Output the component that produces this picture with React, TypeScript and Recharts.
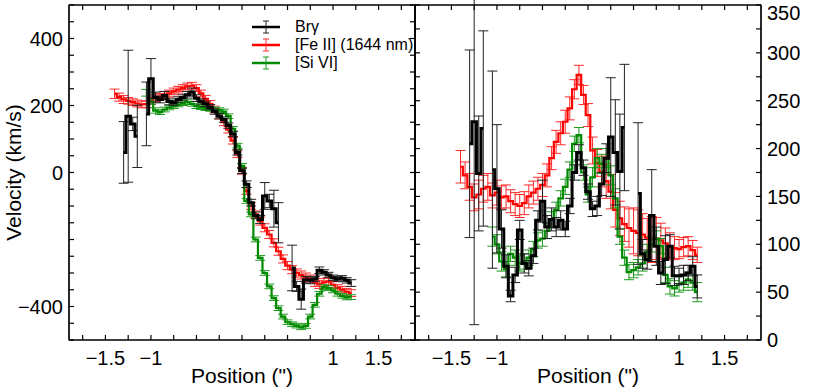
import React from 'react';
import { LineChart, Line, XAxis, YAxis, ErrorBar, Legend, ReferenceArea } from 'recharts';

const FONT = '"Liberation Sans", Arial, Helvetica, sans-serif';

const POSITIONS = [
  -1.40, -1.35, -1.30, -1.25, -1.20, -1.15, -1.10, -1.05, -1.00, -0.95,
  -0.90, -0.85, -0.80, -0.75, -0.70, -0.65, -0.60, -0.55, -0.50, -0.45,
  -0.40, -0.35, -0.30, -0.25, -0.20, -0.15, -0.10, -0.05, 0.00, 0.05,
  0.10, 0.15, 0.20, 0.25, 0.30, 0.35, 0.40, 0.45, 0.50, 0.55,
  0.60, 0.65, 0.70, 0.75, 0.80, 0.85, 0.90, 0.95, 1.00, 1.05,
  1.10, 1.15, 1.20,
];

// ---- Left panel: velocity (km/s)
const LEFT_FEII = [
  235, 225, 218, 214, 210, 206, 203, 204, 214, 222,
  226, 232, 236, 242, 247, 252, 257, 259, 252, 236,
  220, 205, 188, 170, 150, 128, 95, 55, 5, -55,
  -100, -125, -145, -165, -185, -210, -235, -258, -278, -290,
  -300, -306, -312, -318, -328, -334, -328, -325, -335, -345,
  -350, -356, -360,
];
const LEFT_FEII_ERR = [
  14, 12, 12, 10, 10, 10, 10, 10, 10, 10,
  10, 10, 10, 10, 10, 10, 10, 10, 10, 10,
  10, 10, 10, 10, 10, 10, 10, 10, 10, 10,
  10, 10, 12, 12, 12, 12, 12, 12, 12, 12,
  12, 12, 12, 12, 12, 12, 12, 12, 10, 10,
  10, 10, 10,
];
const LEFT_SIVI = [
  null, null, null, null, null, null, null, 238, 212, 185,
  180, 188, 194, 198, 203, 207, 210, 205, 198, 195,
  192, 190, 188, 186, 182, 168, 130, 80, 20, -85,
  -125, -200, -255, -300, -340, -375, -405, -430, -447, -453,
  -457, -462, -458, -430, -395, -362, -342, -345, -352, -362,
  -368, -373, -372,
];
const LEFT_SIVI_ERR = [
  null, null, null, null, null, null, null, 10, 8, 8,
  7, 7, 7, 7, 7, 7, 7, 7, 7, 7,
  7, 7, 7, 7, 7, 7, 7, 7, 7, 7,
  7, 7, 7, 7, 7, 7, 7, 7, 7, 7,
  7, 7, 7, 7, 7, 7, 7, 7, 7, 7,
  7, 7, 7,
];
const LEFT_BRG = [
  null, null, 60, 168, 145, 108, null, 175, 280, 225,
  218, 230, 212, 208, 218, 224, 232, 240, 222, 212,
  205, 195, 182, 168, 158, 140, 115, 60, 5, -35,
  -90, -128, -140, -70, -85, -108, -150, null, null, -285,
  -340, -378, -320, -322, -318, -292, -298, -306, -314, -318,
  -316, -322, -330,
];
const LEFT_BRG_ERR = [
  null, null, 92, 197, 20, 93, null, 95, 60, 15,
  10, 12, 10, 8, 8, 8, 10, 12, 10, 8,
  8, 8, 8, 8, 8, 8, 8, 8, 8, 10,
  10, 10, 12, 40, 20, 55, 60, null, null, 68,
  15, 30, 10, 10, 8, 10, 8, 8, 8, 8,
  8, 8, 10,
];

// ---- Right panel: dispersion (km/s)
const RIGHT_FEII = [
  181, 172, 160, 149, 152, 158, 160, 151, 154, 149,
  150, 145, 142, 140, 143, 150, 154, 158, 162, 172,
  190, 207, 216, 228, 242, 262, 277, 256, 235, 198,
  185, 176, 166, 155, 136, 127, 121, 117, 114, 112,
  110, 107, 105, 106, 104, 101, 98, 96, 95, 97,
  98, 94, 89,
];
const RIGHT_FEII_ERR = [
  17, 14, 14, 14, 15, 14, 14, 13, 13, 12,
  12, 12, 12, 12, 12, 12, 12, 12, 12, 12,
  12, 12, 12, 12, 12, 10, 10, 10, 12, 14,
  14, 16, 18, 18, 18, 18, 18, 20, 24, 24,
  22, 20, 24, 22, 18, 16, 14, 12, 10, 10,
  10, 10, 8,
];
const RIGHT_SIVI = [
  null, null, null, null, null, null, null, 108, 100, 82,
  74, 90, 86, 80, 82, 86, 95, 104, 106, 114,
  126, 136, 148, 160, 178, 205, 214, 175, 152, 170,
  190, 184, 190, 172, 148, 108, 86, 71, 73, 76,
  80, 92, 100, 106, 98, 68, 56, 54, 58, 60,
  63, 60, 50,
];
const RIGHT_SIVI_ERR = [
  null, null, null, null, null, null, null, 10, 10, 10,
  8, 8, 8, 8, 8, 8, 8, 8, 8, 8,
  8, 8, 8, 8, 8, 8, 8, 8, 8, 10,
  10, 10, 10, 10, 10, 8, 8, 8, 8, 8,
  8, 8, 8, 8, 8, 8, 8, 8, 8, 8,
  8, 8, 10,
];
const RIGHT_BRG = [
  null, null, 205, 228, 174, 221, null, 178, 158, 116,
  77, 46, 68, 115, 80, 75, 88, 125, 145, 118,
  126, 118, 125, 116, 140, 175, 196, 180, 155, 137,
  140, 163, 190, 212, 196, 176, 222, null, null, 153,
  90, 84, 130, 98, 70, 84, 98, 67, 67, 68,
  70, 77, 56,
];
const RIGHT_BRG_ERR = [
  null, null, 98, 212, 60, 102, null, 103, 67, 20,
  12, 6, 8, 10, 10, 8, 8, 10, 22, 12,
  12, 10, 10, 8, 8, 8, 8, 8, 8, 8,
  10, 12, 15, 62, 55, 60, 66, null, null, 74,
  15, 10, 48, 20, 12, 25, 12, 10, 8, 10,
  8, 10, 12,
];

const X_TICKS = [-1.75, -1.5, -1.25, -1, -0.75, -0.5, -0.25, 0, 0.25, 0.5, 0.75, 1, 1.25, 1.5, 1.75];
const X_TICK_LABELS = [-1.5, -1, 1, 1.5];
const Y_LEFT_TICKS = [-500, -450, -400, -350, -300, -250, -200, -150, -100, -50, 0, 50, 100, 150, 200, 250, 300, 350, 400, 450, 500];
const Y_LEFT_LABELS = [-400, 0, 200, 400];
const Y_RIGHT_TICKS = [0, 25, 50, 75, 100, 125, 150, 175, 200, 225, 250, 275, 300, 325, 350];
const Y_RIGHT_LABELS = [0, 50, 100, 150, 200, 250, 300, 350];

const SERIES = [
  { name: 'Brγ', color: '#000000', errColor: '#222222', width: 3 },
  { name: '[Fe II] (1644 nm)', color: '#ff0000', errColor: '#ff2a2a', width: 2.2 },
  { name: '[Si VI]', color: '#008a00', errColor: '#1f9a1f', width: 2.2 },
];

const fmt = (v: number) => (v < 0 ? '\u2212' + Math.abs(v) : String(v));
const xFmt = (v: number) => (X_TICK_LABELS.includes(v) ? fmt(v) : '');
const yLeftFmt = (v: number) => (Y_LEFT_LABELS.includes(v) ? fmt(v) : '');

function build(vals: (number | null)[], errs: (number | null)[]) {
  return POSITIONS.map((x, i) => ({ x, v: vals[i], e: errs[i] }));
}

const leftData = {
  brg: build(LEFT_BRG, LEFT_BRG_ERR),
  fe: build(LEFT_FEII, LEFT_FEII_ERR),
  si: build(LEFT_SIVI, LEFT_SIVI_ERR),
};
const rightData = {
  brg: build(RIGHT_BRG, RIGHT_BRG_ERR),
  fe: build(RIGHT_FEII, RIGHT_FEII_ERR),
  si: build(RIGHT_SIVI, RIGHT_SIVI_ERR),
};

const tickStyle = { fontSize: 20, fill: '#000', fontFamily: FONT };
const titleStyle = { fontSize: 21, fill: '#000', fontFamily: FONT };

const RightTick = (props: any) => {
  const { x, y, payload } = props;
  const v = payload.value;
  if (!Y_RIGHT_LABELS.includes(v)) return <g />;
  const shift = v === 350 ? 8 : 0;
  return (
    <text x={x} y={y + shift} dy="0.355em" textAnchor="start" fontSize={20} fill="#000" fontFamily={FONT}>
      {fmt(v)}
    </text>
  );
};

const EmptyTick = () => <g />;

const LegendContent = () => (
  <div style={{ fontFamily: FONT, fontSize: 16, color: '#000', width: 170 }}>
    {SERIES.map((s) => (
      <div key={s.name} style={{ display: 'flex', alignItems: 'center', height: 18 }}>
        <svg width={32} height={18} style={{ display: 'block', flex: '0 0 32px' }}>
          <line x1={2} y1={9} x2={30} y2={9} stroke={s.color} strokeWidth={2.5} />
          <line x1={16} y1={3} x2={16} y2={15} stroke={s.errColor} strokeWidth={1} />
          <line x1={13} y1={3} x2={19} y2={3} stroke={s.errColor} strokeWidth={1} />
          <line x1={13} y1={15} x2={19} y2={15} stroke={s.errColor} strokeWidth={1} />
        </svg>
        <span style={{ display: 'block', flex: '0 0 auto', paddingLeft: 13, lineHeight: '18px', whiteSpace: 'nowrap' }}>
          {s.name}
        </span>
      </div>
    ))}
  </div>
);

function seriesLines(data: typeof leftData, yId: string) {
  const items = [
    { d: data.fe, s: SERIES[1] },
    { d: data.si, s: SERIES[2] },
    { d: data.brg, s: SERIES[0] },
  ];
  return items.map(({ d, s }) => (
    <Line
      key={s.name}
      xAxisId="b"
      yAxisId={yId}
      data={d}
      dataKey="v"
      name={s.name}
      type="step"
      stroke={s.color}
      strokeWidth={s.width}
      dot={false}
      activeDot={false}
      connectNulls={false}
      isAnimationActive={false}
      legendType="none"
    >
      <ErrorBar dataKey="e" direction="y" width={5} stroke={s.errColor} strokeWidth={1} isAnimationActive={false} />
    </Line>
  ));
}

const commonX = {
  type: 'number' as const,
  domain: [-1.9, 1.9],
  allowDataOverflow: true,
  ticks: X_TICKS,
  interval: 0 as const,
  tickSize: -5,
  stroke: '#000',
  strokeWidth: 1.2,
};

export default function App() {
  return (
    <div style={{ position: 'absolute', left: 0, top: 0, width: 830, height: 388, background: '#fff' }}>
      <div style={{ position: 'absolute', left: 0, top: 0 }}>
        <LineChart width={420} height={388} margin={{ top: 4, right: 4, bottom: 0, left: 0 }}>
          <XAxis
            {...commonX}
            xAxisId="b"
            dataKey="x"
            tickFormatter={xFmt}
            height={48}
            tickMargin={16}
            tick={tickStyle}
            label={{ value: 'Position (")', position: 'insideBottom', offset: 5, style: titleStyle }}
          />
          <XAxis {...commonX} xAxisId="t" dataKey="x" orientation="top" height={1} tick={EmptyTick} />
          <YAxis
            yAxisId="l"
            type="number"
            domain={[-500, 500]}
            allowDataOverflow
            ticks={Y_LEFT_TICKS}
            interval={0}
            tickFormatter={yLeftFmt}
            width={69}
            tickSize={-5}
            tickMargin={11}
            stroke="#000"
            strokeWidth={1.2}
            tick={tickStyle}
            label={{
              value: 'Velocity (km/s)',
              angle: -90,
              position: 'insideLeft',
              offset: 14,
              style: { ...titleStyle, textAnchor: 'middle' },
            }}
          />
          <YAxis
            yAxisId="r"
            orientation="right"
            type="number"
            domain={[-500, 500]}
            allowDataOverflow
            ticks={Y_LEFT_TICKS}
            interval={0}
            width={1}
            tickSize={-5}
            tick={EmptyTick}
            stroke="#000"
            strokeWidth={1.2}
          />
          <ReferenceArea
            xAxisId="b"
            yAxisId="l"
            x1={-1.9}
            x2={1.9}
            y1={-500}
            y2={500}
            fill="none"
            fillOpacity={0}
            stroke="#000"
            strokeWidth={1.2}
            ifOverflow="visible"
          />
          <Legend
            layout="horizontal"
            verticalAlign="middle"
            align="center"
            wrapperStyle={{ position: 'absolute', left: 250, top: 18, width: 170 }}
            content={() => <LegendContent />}
          />
          {seriesLines(leftData, 'l')}
        </LineChart>
      </div>
      <div style={{ position: 'absolute', left: 400, top: 0 }}>
        <LineChart width={430} height={388} margin={{ top: 4, right: 0, bottom: 0, left: 14 }}>
          <XAxis
            {...commonX}
            xAxisId="b"
            dataKey="x"
            tickFormatter={xFmt}
            height={48}
            tickMargin={16}
            tick={tickStyle}
            label={{ value: 'Position (")', position: 'insideBottom', offset: 5, style: titleStyle }}
          />
          <XAxis {...commonX} xAxisId="t" dataKey="x" orientation="top" height={1} tick={EmptyTick} />
          <YAxis
            yAxisId="l"
            orientation="left"
            type="number"
            domain={[0, 350]}
            allowDataOverflow
            ticks={Y_RIGHT_TICKS}
            interval={0}
            width={1}
            tickSize={-5}
            tick={EmptyTick}
            stroke="#000"
            strokeWidth={1.2}
          />
          <YAxis
            yAxisId="r"
            orientation="right"
            type="number"
            domain={[0, 350]}
            allowDataOverflow
            ticks={Y_RIGHT_TICKS}
            interval={0}
            width={69}
            tickSize={-5}
            tickMargin={11}
            stroke="#000"
            strokeWidth={1.2}
            tick={(p: any) => <RightTick {...p} />}
          />
          <ReferenceArea
            xAxisId="b"
            yAxisId="r"
            x1={-1.9}
            x2={1.9}
            y1={0}
            y2={350}
            fill="none"
            fillOpacity={0}
            stroke="#000"
            strokeWidth={1.2}
            ifOverflow="visible"
          />
          {seriesLines(rightData, 'r')}
        </LineChart>
      </div>
    </div>
  );
}
